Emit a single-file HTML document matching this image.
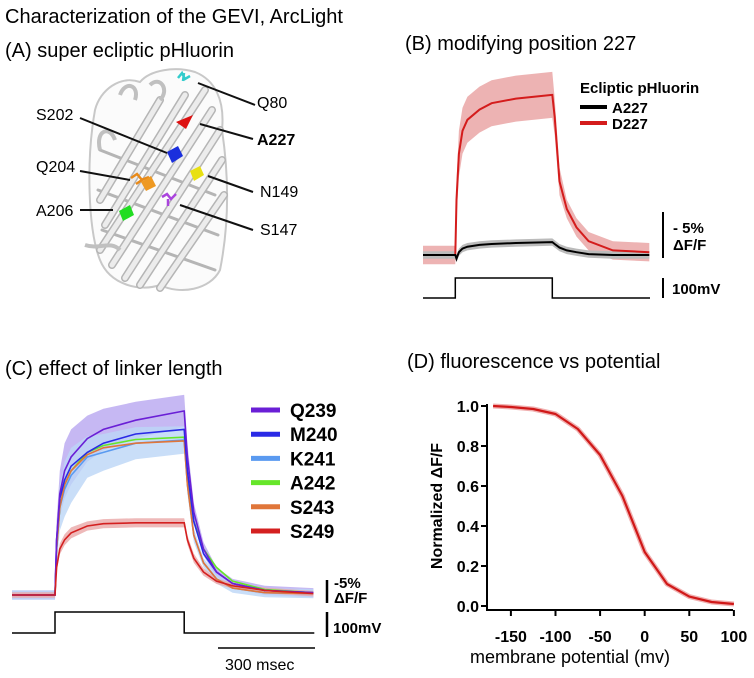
<!DOCTYPE html>
<html><head><meta charset="utf-8"><style>
body{margin:0;background:#fff}
svg{display:block;font-family:"Liberation Sans",Arial,sans-serif}
</style></head><body>
<svg id="fig" width="754" height="678" viewBox="0 0 754 678" xmlns="http://www.w3.org/2000/svg">
<text x="5" y="23" font-size="20">Characterization of the GEVI, ArcLight</text>
<text x="5" y="57" font-size="20">(A) super ecliptic pHluorin</text>
<text x="405" y="50" font-size="20">(B) modifying position 227</text>
<text x="5" y="375" font-size="20">(C) effect of linker length</text>
<text x="407" y="368" font-size="20">(D) fluorescence vs potential</text>

<g id="protein">
 <path d="M95,110 C100,90 120,75 140,82 C150,70 175,66 195,72 C215,80 225,100 222,130 C228,170 230,220 220,270 C210,290 180,295 160,285 C140,292 110,285 100,260 C88,230 86,160 95,110 Z" fill="#fbfbfb" stroke="#c8c8c8" stroke-width="2"/>
 <g stroke="#b5b5b5" stroke-width="8" stroke-linecap="round" fill="none" id="strands-dark"></g>
 <g stroke="#ececec" stroke-width="5" stroke-linecap="round" fill="none" id="strands-light"></g>
 <path d="M120,95 C125,80 140,85 135,100 M150,85 C160,75 170,90 160,100 M100,150 C95,130 110,125 115,140 M85,245 C100,250 110,240 120,250" stroke="#c0c0c0" stroke-width="4" fill="none"/>
 <path d="M178,78 l4,-5 l3,6 l5,-3 M184,73 l-1,8" stroke="#33cccc" stroke-width="2.5" fill="none"/>
 <polygon points="176,122 193,115 186,129" fill="#dd1111"/>
 <polygon points="167,152 178,146 183,156 172,163" fill="#1a2fdd"/>
 <polygon points="190,171 200,166 204,175 194,181" fill="#e8e011"/>
 <path d="M131,178 l6,-4 l5,6 l-6,4 M141,180 l8,-3" stroke="#e88a1a" stroke-width="2.5" fill="none"/>
 <polygon points="141,182 151,176 156,186 146,191" fill="#ee9922"/>
 <polygon points="119,211 130,205 134,215 123,221" fill="#22dd22"/>
 <path d="M162,197 l5,-3 l4,5 l5,-5 M168,199 l0,7" stroke="#aa44dd" stroke-width="2.5" fill="none"/>
</g>
<g font-size="16">
 <text x="257" y="108">Q80</text>
 <text x="257" y="145" font-weight="bold">A227</text>
 <text x="36" y="120">S202</text>
 <text x="36" y="172">Q204</text>
 <text x="260" y="197">N149</text>
 <text x="36" y="216">A206</text>
 <text x="260" y="235">S147</text>
 <g stroke="#111" stroke-width="2">
  <line x1="198" y1="83" x2="255" y2="105"/>
  <line x1="200" y1="124" x2="253" y2="139"/>
  <line x1="80" y1="118" x2="167" y2="153"/>
  <line x1="80" y1="171" x2="130" y2="180"/>
  <line x1="208" y1="176" x2="253" y2="192"/>
  <line x1="80" y1="210" x2="113" y2="210"/>
  <line x1="180" y1="205" x2="253" y2="230"/>
 </g>
</g>

<g id="panelB"></g>
<g id="panelC"></g>
<g id="panelD"></g>
</svg>
<script>
// ---------- shared time axis (ms) ----------
const timePts = [-133,0,5,15,30,50,100,150,250,399,400,410,430,460,500,550,650,800];
const stepTimes = [-133,0,0,400,400,803];
const stepLevels = [0,0,1,1,0,0];
// ---------- panel B data (ΔF/F %) ----------
const bD227 = [0,0,6,11,13.5,14.7,15.8,16.5,17,17.4,17.4,15,8,5,3,1.5,0.5,0.3];
const bD227sd = [1,1,2,2.5,2.5,2.5,2.5,2.5,2.5,2.5,2.5,2,1.5,1,1,1,1,1];
const bA227 = [0,0,-0.4,0.3,0.7,0.9,1.1,1.2,1.3,1.4,1.4,1.2,0.8,0.5,0.3,0.1,0,0];
const bA227sd = [0.4,0.4,0.4,0.4,0.4,0.4,0.4,0.4,0.4,0.4,0.4,0.4,0.4,0.4,0.4,0.4,0.4,0.4];
// ---------- panel C data ----------
const cNames = ["Q239","M240","K241","A242","S243","S249"];
const cColors = ["#6a1fd6","#2a2ae6","#5a9af0","#66e62a","#e0763a","#d42020"];
const cQ239 = [0,0,12,22,27,30,34,36,38,40,40,30,18,10,5,2.5,1,0.5];
const cM240 = [0,0,12,21,25,28,31,33,35,36,36,27,16,9,5,2.5,1,0.5];
const cK241 = [0,0,10,19,23,26,30,31,33,33.7,33.7,24,13,7,3.5,1.5,0.5,0.3];
const cA242 = [0,0,10,19,24,27,31,32.5,33.8,34.3,34.3,26,16,10,6,3,1.2,0.5];
const cS243 = [0,0,10,19,24,27,30.5,32,33,33.5,33.5,24,13,7,3.5,1.5,0.5,0.3];
const cS249 = [0,0,6,10,12,13.5,15,15.5,15.7,15.7,15.7,12,8,5,3,2,1,0.3];
const cQ239sd = [1,1,4,5,6,6,5,4.5,4,3.5,3.5,3,2,1.5,1,1,1,1];
const cK241sd = [1,1,4,5,6,6,4.5,4,3.5,3,3,2,1.5,1,1,1,1,1];
const cS249sd = [0.6,0.6,1,1.2,1.2,1.2,1,1,1,1,1,1,1,0.8,0.6,0.6,0.6,0.6];
// ---------- panel D data ----------
const dVolt = [-170,-150,-125,-100,-75,-50,-25,0,25,50,75,100];
const dNorm = [1.0,0.995,0.985,0.96,0.885,0.755,0.55,0.27,0.11,0.047,0.02,0.01];
const dYTicks = [0,0.2,0.4,0.6,0.8,1.0];
const dYTickLabels = ["0.0","0.2","0.4","0.6","0.8","1.0"];
const dXTicks = [-150,-100,-50,0,50,100];
const dXTickLabels = ["-150","-100","-50","0","50","100"];

const NS="http://www.w3.org/2000/svg";
function mk(parent,tag,attrs){const e=document.createElementNS(NS,tag);for(const k in attrs)e.setAttribute(k,attrs[k]);parent.appendChild(e);return e;}
function linePath(xs,ys,sx,sy){return xs.map((x,i)=>(i?"L":"M")+sx(x).toFixed(1)+","+sy(ys[i]).toFixed(1)).join("");}
function bandPath(xs,ys,sd,sx,sy){let p=xs.map((x,i)=>(i?"L":"M")+sx(x).toFixed(1)+","+sy(ys[i]+sd[i]).toFixed(1)).join("");
 for(let i=xs.length-1;i>=0;i--)p+="L"+sx(xs[i]).toFixed(1)+","+sy(ys[i]-sd[i]).toFixed(1);return p+"Z";}

// ---- protein strands ----
(function(){
 const dk=document.getElementById('strands-dark'), lt=document.getElementById('strands-light');
 const strands=[[100,250,205,90],[112,265,212,110],[125,278,220,130],[140,285,222,160],[160,288,224,195],[105,225,185,95],[100,200,160,100]];
 strands.forEach(s=>{[dk,lt].forEach(g=>{const l=mk(g,'line',{x1:s[0],y1:s[1],x2:s[2],y2:s[3]});
 
 });});
 const cross=[[100,150,215,195],[98,190,218,235],[102,230,215,270]];
 cross.forEach(s=>{const l=mk(dk,'line',{x1:s[0],y1:s[1],x2:s[2],y2:s[3],'stroke-width':3});
 
 });
})();

// ---- panel B ----
(function(){
 const g=document.getElementById('panelB');
 const sx=t=>423+(t+133)*0.2425, sy=v=>255-v*9.2;
 const sStep=v=>298-v*20;
 let b=mk(g,'path',{d:bandPath(timePts,bD227,bD227sd,sx,sy),fill:"#e8a0a0",opacity:0.8});
 
 
 b=mk(g,'path',{d:bandPath(timePts,bA227,bA227sd,sx,sy),fill:"#bbb"});
 
 
 let l=mk(g,'path',{d:linePath(timePts,bD227,sx,sy),fill:"none",stroke:"#d41c1c","stroke-width":2});
 
 
 l=mk(g,'path',{d:linePath(timePts,bA227,sx,sy),fill:"none",stroke:"#000","stroke-width":2});
 
 
 l=mk(g,'path',{d:linePath(stepTimes,stepLevels,sx,sStep),fill:"none",stroke:"#000","stroke-width":1.5});
 
 
 let s=mk(g,'line',{x1:663,y1:212,x2:663,y2:258,stroke:"#000","stroke-width":2});
 
 
 s=mk(g,'line',{x1:663,y1:278,x2:663,y2:298,stroke:"#000","stroke-width":2});
 
 
 const txt=[[673,233,"- 5%","dff-scale-label-a"],[673,250,"ΔF/F","dff-scale-label-b"],[672,294,"100mV","mv-scale-label"],[580,93,"Ecliptic pHluorin","legend-title"],[612,113,"A227","legend-a227-label"],[612,129,"D227","legend-d227-label"]];
 txt.forEach(t=>{const e=mk(g,'text',{x:t[0],y:t[1],'font-size':15,'font-weight':'bold'});e.textContent=t[2];
 
 });
 let e=mk(g,'line',{x1:580,y1:107,x2:607,y2:107,stroke:"#000","stroke-width":4});
 
 
 e=mk(g,'line',{x1:580,y1:123,x2:607,y2:123,stroke:"#d41c1c","stroke-width":4});
 
 
})();

// ---- panel C ----
(function(){
 const g=document.getElementById('panelC');
 const sx=t=>12+(t+133)*0.323, sy=v=>595-v*4.6;
 const sStep=v=>633-v*21;
 const series=[cQ239,cM240,cK241,cA242,cS243,cS249];
 let b=mk(g,'path',{d:bandPath(timePts,cQ239,cQ239sd,sx,sy),fill:"#b8a6f0",opacity:0.8});
 
 
 b=mk(g,'path',{d:bandPath(timePts,cK241,cK241sd,sx,sy),fill:"#bcd6f6",opacity:0.8});
 
 
 b=mk(g,'path',{d:bandPath(timePts,cS249,cS249sd,sx,sy),fill:"#eaa8a8",opacity:0.8});
 
 
 const order=[3,2,4,1,0,5];
 order.forEach(i=>{const l=mk(g,'path',{d:linePath(timePts,series[i],sx,sy),fill:"none",stroke:cColors[i],"stroke-width":1.6});
 
 });
 cNames.forEach((n,i)=>{const y=410+i*24.2;
 const sw=mk(g,'line',{x1:251,y1:y,x2:280,y2:y,stroke:cColors[i],"stroke-width":5});
 
 
 const t=mk(g,'text',{x:290,y:y+7,'font-size':19,'font-weight':'bold'});t.textContent=n;
 
 });
 let l=mk(g,'path',{d:linePath(stepTimes,stepLevels,sx,sStep),fill:"none",stroke:"#000","stroke-width":1.5});
 
 
 let s=mk(g,'line',{x1:327,y1:580,x2:327,y2:603,stroke:"#000","stroke-width":2.5});
 
 
 s=mk(g,'line',{x1:327,y1:612,x2:327,y2:637,stroke:"#000","stroke-width":2.5});
 
 
 s=mk(g,'line',{x1:218,y1:648,x2:315,y2:648,stroke:"#000","stroke-width":1.5});
 
 
 const txt=[[334,588,"-5%",15,"bold","dff-scale-label-a"],[334,603,"ΔF/F",15,"bold","dff-scale-label-b"],[333,633,"100mV",15,"bold","mv-scale-label"],[225,670,"300 msec",16,"normal","time-scale-label"]];
 txt.forEach(t=>{const e=mk(g,'text',{x:t[0],y:t[1],'font-size':t[3],'font-weight':t[4]});e.textContent=t[2];
 
 });
})();

// ---- panel D ----
(function(){
 const g=document.getElementById('panelD');
 const sx=v=>487.7+(v+176)*0.892, sy=f=>606-f*200;
 let a=mk(g,'path',{d:"M487,404 L487,610 L733,610",fill:"none",stroke:"#000","stroke-width":2});
 
 
 dYTicks.forEach((v,i)=>{const t=mk(g,'line',{x1:481,y1:sy(v),x2:487,y2:sy(v),stroke:"#000","stroke-width":2});
 
 
 const l=mk(g,'text',{x:479,y:sy(v)+6,'font-size':16,'font-weight':'bold','text-anchor':'end'});l.textContent=dYTickLabels[i];
 
 });
 dXTicks.forEach((v,i)=>{const t=mk(g,'line',{x1:sx(v),y1:610,x2:sx(v),y2:616,stroke:"#000","stroke-width":2});
 
 
 const l=mk(g,'text',{x:sx(v),y:642,'font-size':16,'font-weight':'bold','text-anchor':'middle'});l.textContent=dXTickLabels[i];
 
 });
 let c=mk(g,'path',{d:linePath(dVolt,dNorm,sx,sy),fill:"none",stroke:"#f0b0b0","stroke-width":5,"stroke-linejoin":"round"});
 
 
 c=mk(g,'path',{d:linePath(dVolt,dNorm,sx,sy),fill:"none",stroke:"#d01818","stroke-width":2.2,"stroke-linejoin":"round"});
 
 
 let t=mk(g,'text',{x:0,y:0,'font-size':16,'font-weight':'bold','text-anchor':'middle',transform:'translate(442,506) rotate(-90)'});t.textContent="Normalized ΔF/F";
 
 
 t=mk(g,'text',{x:570,y:663,'font-size':18,'text-anchor':'middle'});t.textContent="membrane potential (mv)";
 
 
})();
</script>
</body></html>
